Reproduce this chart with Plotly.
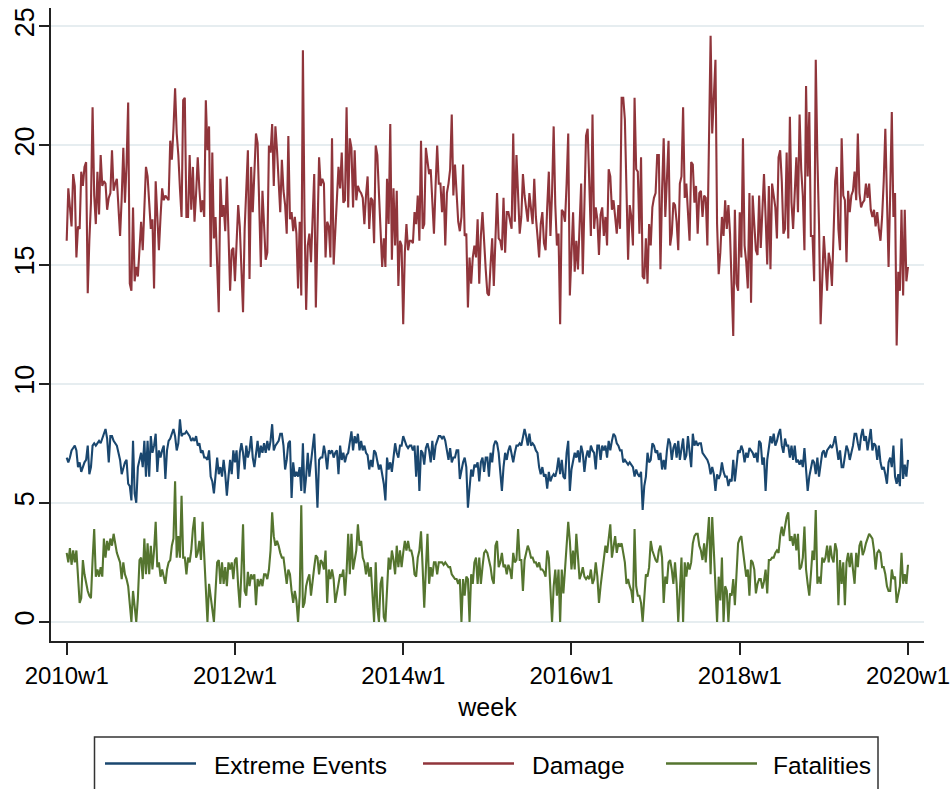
import plotly.graph_objects as go

# ---------------- data (weekly, 2010w1 .. 2020w1) ----------------
damage_a = [16.0,18.2,17.4,16.6,18.8,18.3,15.3,16.6,16.5,18.9,
18.3,19.1,19.3,13.8,16.0,17.6,21.6,17.9,16.7,18.9,
17.1,19.6,18.3,18.5,18.4,17.3,17.8,18.0,19.8,18.1,
18.4,18.6,17.4,16.2,17.8,19.9,17.6,19.2,21.8,14.2,
13.9,17.4,14.3,14.9,14.5,15.9,16.8,15.6,17.2,19.1,
18.7,17.4,16.5,16.9,14.0,18.5,16.9,15.6,17.0,18.2,
17.7,17.9,17.8,17.7,20.2,19.4,20.7,22.4,20.5,19.6,
18.2,17.0,21.9,22.0,17.0,17.0,19.6,17.3,19.1,16.8,
18.0,19.5,18.2,17.2,17.7,17.0,21.9,19.8,20.8,14.9,
19.7,16.1,17.0,15.0,13.0,18.6,17.0,17.5,16.4,18.7,
16.0,13.9,15.6,15.7,14.3,16.2,17.5,16.6,14.8,13.0,
16.5,18.2,19.8,14.4,19.1,17.2,18.9,20.5,20.1,17.0,
14.9,18.1,16.5,15.2,15.5,20.0,19.7,20.9,18.3,20.8]
damage_b = [19.8,18.3,17.2,19.4,18.1,17.5,16.3,20.4,16.9,17.2,
16.4,17.0,16.3,14.0,16.8,13.7,24.0,17.0,13.1,15.8,
16.3,15.1,16.7,18.8,13.2,16.0,19.5,18.3,18.6,18.4,
15.3,16.8,16.6,15.3,20.3,15.0,16.5,17.4,19.1,18.2,
19.7,17.6,17.7,21.6,17.4,20.3,19.9,17.4,19.8,17.7,
18.3,18.1,18.0,17.8,16.7,17.9,18.7,16.5,17.8,17.7,
15.9,20.0,19.6,18.0,16.7,14.9,16.1,14.9,18.6,16.7,
20.9,15.2,18.2,15.8,18.1,14.1,16.0,15.8,12.5,15.5,
16.7,15.6,16.0,16.0,15.9,17.2,16.7,17.9,16.0,20.2,
16.5,16.7,19.9,19.4,18.8,19.0,17.7,16.3,18.3,20.0,
18.4,18.4,17.2,18.3,15.8,18.0,18.4,19.0,21.3,17.9,
19.2,17.9,16.8,16.4,17.0,19.2,16.2,16.3,13.2,15.3,
14.2,15.3,15.8,15.3,16.9,14.2,16.2,17.2,15.8,14.8]
damage_c = [13.8,13.7,15.0,16.1,14.1,16.5,18.0,16.1,16.0,15.6,
17.8,15.5,17.2,17.2,16.9,16.5,20.5,16.8,19.6,17.5,
16.3,17.0,18.8,17.9,17.4,16.8,18.0,17.3,16.7,18.6,
17.0,16.2,15.3,16.7,17.2,15.9,15.6,17.4,18.9,16.2,
18.0,20.8,17.5,15.8,16.3,12.5,17.3,17.2,16.8,18.4,
20.5,13.7,15.3,17.2,14.7,16.0,14.8,16.5,18.4,14.6,
17.0,20.4,20.7,18.0,16.2,21.3,16.5,17.4,16.9,15.4,
17.1,17.4,16.2,17.0,15.8,19.0,18.7,17.3,17.7,17.0,
16.3,17.5,16.5,22.0,22.0,21.1,17.3,15.2,17.5,17.0,
15.8,22.0,19.0,18.9,16.3,19.5,14.5,14.4,16.1,14.2,
16.7,15.8,17.4,17.8,18.0,19.6,19.6,14.8,18.1,20.3,
17.0,18.5,20.2,15.8,16.3,17.6,17.5,16.8,15.6,18.4,
18.7,21.6,17.8,18.4,17.2,16.0,19.3,19.2,17.6,18.3]
damage_d = [16.3,18.0,18.1,17.0,17.9,17.8,15.8,20.6,24.6,20.5,
22.0,23.6,16.7,14.6,15.5,17.0,16.2,17.7,16.5,17.5,
16.3,14.2,12.0,17.3,14.2,13.9,17.2,15.3,20.3,15.8,
15.1,14.0,18.0,13.4,17.9,16.7,15.6,15.4,17.9,15.7,
17.0,18.8,17.0,15.0,18.3,14.8,18.4,17.8,17.4,16.1,
19.5,19.8,18.5,16.3,16.5,19.7,16.1,21.2,17.6,16.5,
18.0,19.5,17.2,21.3,19.0,17.9,15.6,22.5,18.7,21.4,
16.2,16.2,14.3,23.6,19.5,16.7,12.5,14.8,16.2,15.1,
13.9,15.5,15.1,14.1,16.9,18.5,19.1,16.5,15.6,20.3,
17.9,17.7,15.1,18.1,17.2,17.9,18.1,18.9,17.7,20.5,
18.0,17.4,17.6,17.7,18.4,17.8,18.4,17.3,17.0,17.3,
16.6,17.2,16.5,16.0,17.0,18.5,20.7,17.4,14.9,18.0,
21.4,17.0,18.0,11.6,14.7,13.9,17.3,13.7,17.3,14.3,
14.9]

events_a = [6.9,6.7,6.9,7.2,7.3,7.4,7.2,6.5,6.7,6.3,
6.5,6.7,6.8,7.4,6.2,6.5,7.4,7.5,7.4,7.5,
7.6,7.5,7.7,7.9,8.1,7.7,6.7,7.8,7.8,7.6,
7.5,7.4,7.1,6.8,6.2,6.5,6.7,6.8,5.8,5.7,
5.1,7.6,5.4,5.0,6.5,6.8,7.1,6.5,7.6,6.1,
7.6,6.1,7.8,7.1,7.4,7.9,6.3,7.2,6.9,7.2,
7.4,6.0,7.2,7.6,7.7,7.9,8.1,7.8,7.2,7.5,
8.5,7.8,7.9,7.9,8.0,7.9,7.8,7.6,7.7,7.6,
7.8,7.4,7.5,7.1,7.2,6.9,6.9,6.8,7.2,6.1,
5.9,5.4,6.1,6.9,6.2,6.5,6.1,6.8,6.2,5.3,
6.1,6.8,6.2,7.2,6.7,7.2,6.0,7.1,7.5,7.1,
6.4,7.4,6.9,7.2,7.8,6.9,6.5,7.2,7.6,6.9,
7.4,7.1,7.5,7.1,7.6,7.2,7.6,8.3,7.2,7.4]
events_b = [7.5,7.6,7.9,7.9,7.4,6.4,6.8,7.5,7.6,5.2,
6.7,6.1,6.3,6.1,6.5,5.5,7.5,5.4,6.1,7.1,
6.1,6.7,7.4,7.9,6.4,4.8,6.8,6.9,6.9,7.4,7.0,
6.4,7.2,7.1,7.2,6.9,7.1,7.2,6.2,7.4,6.8,
7.1,6.7,7.0,7.1,7.5,8.0,7.2,7.8,7.5,7.9,
7.2,7.6,7.2,7.4,7.1,7.0,6.4,6.8,6.5,7.2,7.1,
6.8,6.4,6.6,6.2,5.8,5.1,6.9,6.4,6.7,6.3,
6.8,7.5,7.1,6.9,7.4,7.4,7.8,7.6,7.4,7.3,
7.4,7.4,7.2,7.4,6.1,7.4,5.5,7.2,7.1,6.6,7.3,
7.5,7.2,6.7,7.6,6.8,7.4,7.6,7.8,7.8,7.7,
7.8,7.6,7.2,6.8,7.3,6.7,6.9,6.9,7.2,7.2,
6.0,6.4,6.7,6.9,6.5,4.8,5.8,6.4,6.1,6.6,
6.5,6.7,5.9,6.7,6.9,6.3,6.9]
events_c = [6.9,6.1,7.1,6.7,7.4,7.6,7.5,7.1,6.4,5.5,
6.5,7.1,6.8,7.2,7.4,7.1,6.7,7.1,7.4,7.4,
7.5,7.4,7.8,8.1,7.8,7.4,7.9,7.4,7.5,7.4,7.2,
7.1,6.5,6.2,6.5,6.1,6.2,5.6,6.3,5.9,6.1,
6.2,6.1,6.4,6.9,6.2,6.8,6.1,6.0,7.1,7.6,
5.5,6.4,6.8,7.1,6.9,7.2,6.7,7.4,7.1,6.3,6.9,
7.2,6.9,7.4,7.2,7.1,6.4,7.4,7.4,6.8,7.4,
7.2,7.4,6.9,7.6,7.2,7.6,7.9,7.8,7.5,7.4,
7.2,7.2,6.7,6.8,6.7,6.6,6.7,6.6,6.5,6.1,6.4,
6.2,6.1,6.3,4.7,5.7,6.1,7.1,6.7,6.8,7.5,
7.4,7.1,7.2,6.8,7.1,6.4,6.8,6.4,7.2,7.7,
7.5,6.8,7.3,7.5,6.9,7.6,6.8,7.2,7.7,6.8,7.0,
7.8,7.2,6.5,7.9,7.4,7.6]
events_d = [7.4,7.5,7.5,7.1,7.0,6.9,6.8,6.6,6.2,6.5,
6.2,5.5,6.2,6.0,6.2,6.7,6.3,6.1,6.1,5.7,6.0,
5.9,6.8,5.9,6.7,7.2,7.1,7.4,7.2,6.7,7.1,
6.9,7.3,7.2,7.1,6.9,7.1,6.7,7.6,7.5,6.6,6.9,
5.5,6.8,7.3,7.8,7.5,7.9,7.4,7.6,7.9,8.1,
7.4,7.1,7.7,7.4,7.4,6.9,7.4,6.8,7.4,6.7,
6.8,6.6,6.8,6.5,7.3,6.4,5.5,6.1,6.4,6.8,6.7,
6.2,6.9,6.1,6.6,7.1,7.2,6.9,7.2,7.3,7.4,
7.3,7.5,7.8,7.2,6.8,7.2,6.5,6.5,6.9,7.4,
7.2,6.8,7.1,7.4,7.9,7.9,7.5,7.2,7.8,8.1,7.6,
7.8,7.2,7.6,8.1,7.2,7.5,7.4,6.8,7.4,6.7,
6.4,6.5,6.2,5.8,6.7,6.9,6.5,7.4,6.1,5.8,6.2,
5.7,7.7,6.0,6.6,6.1,6.8]

fatal_a = [2.9,2.5,3.1,2.4,3.0,2.5,3.0,1.9,0.8,1.0,
2.6,2.0,1.6,1.3,1.1,1.0,2.6,3.9,1.9,2.2,
1.9,2.3,1.9,3.5,2.7,3.4,3.0,3.5,3.2,3.7,
3.3,2.9,2.7,2.5,1.8,2.5,2.0,1.8,1.5,0.6,
0.0,1.3,0.5,0.0,1.0,2.6,2.7,1.8,3.5,2.0,
3.3,2.0,3.2,2.2,3.0,4.2,2.3,2.5,1.9,2.2,
1.9,1.6,2.2,2.5,2.6,3.2,3.5,5.9,2.7,3.6,
2.7,5.3,2.7,2.7,2.0,2.7,2.5,3.0,3.9,4.4,
2.7,2.9,3.4,2.6,4.2,2.9,1.9,0.0,1.6,1.0,
0.6,0.0,1.3,2.5,2.6,1.6,2.5,1.6,2.3,1.5,
2.5,2.2,2.5,1.8,2.6,2.7,1.5,0.6,2.1,4.1,
1.3,1.1,2.1,1.5,2.0,1.8,2.0,0.7,1.8,1.5,
1.8,1.5,2.0,2.0,1.8,2.2,3.0,4.6,3.6,3.2]
fatal_b = [3.4,3.2,2.9,2.7,2.7,2.0,1.6,2.2,2.0,1.3,
0.8,1.3,0.9,0.0,1.1,4.9,0.6,0.8,1.5,1.8,2.0,
1.1,1.8,2.3,2.8,2.7,2.0,2.6,2.5,2.2,3.0,
0.8,2.2,1.8,2.2,1.8,0.8,1.3,1.6,2.0,1.9,
2.2,1.1,2.1,3.7,2.0,3.7,2.2,2.7,3.0,4.1,3.2,
3.4,2.7,2.5,2.0,2.5,1.9,2.3,1.3,0.0,2.5,
0.6,0.0,1.6,1.9,0.2,0.0,1.1,2.7,2.2,3.0,2.6,
2.0,3.2,2.3,3.0,2.3,2.9,3.4,3.0,3.4,3.0,
3.0,2.7,2.0,1.9,2.7,3.0,3.8,2.3,0.6,2.2,
3.7,1.6,2.3,1.9,2.5,2.5,2.0,2.5,2.5,2.5,2.4,
2.5,2.4,2.3,2.3,2.0,1.9,1.8,1.8,1.6,1.8,
0.0,1.8,1.1,1.9,1.8,0.0,2.0,1.6,2.5,2.7,
1.6,2.7,1.6,2.3,2.9,3.0]
fatal_c = [2.9,2.6,2.3,1.8,1.6,3.2,3.4,2.3,2.5,2.9,
2.3,2.4,2.0,2.4,2.2,1.8,2.9,2.5,2.6,3.9,2.6,
2.6,1.3,2.6,2.9,3.2,3.0,2.7,2.7,2.5,2.5,
2.3,2.5,2.2,2.2,2.1,1.9,3.0,2.7,1.6,0.0,
1.5,2.2,1.1,2.2,0.0,2.2,1.2,2.3,3.3,4.2,3.4,
2.2,3.0,2.2,3.7,2.7,1.8,2.0,2.3,1.9,1.8,
1.9,1.8,2.2,1.6,1.8,2.5,1.9,0.8,1.5,2.0,2.6,
3.2,2.9,3.6,4.1,2.7,3.2,3.6,2.9,3.3,3.2,
3.3,2.9,2.5,1.6,1.8,1.5,1.3,0.8,3.9,1.5,
1.1,1.1,0.8,0.0,1.3,2.0,1.9,2.3,3.4,3.0,2.8,
2.6,2.5,3.0,3.2,2.7,0.8,1.9,1.6,2.5,2.6,
2.2,1.6,2.5,1.6,0.0,1.3,2.7,0.0,2.5,1.9,
2.5,2.2,2.5,3.3,3.6,3.7]
fatal_d = [3.7,3.2,3.0,2.6,3.3,2.5,3.3,4.4,2.0,4.4,
3.0,1.5,0.0,1.9,0.9,2.7,0.0,1.5,1.3,0.0,1.2,
1.1,1.8,0.7,1.9,3.3,3.5,3.6,3.0,2.5,1.9,
2.2,1.1,2.6,2.5,2.2,1.2,1.6,1.8,1.8,1.4,1.7,
2.2,1.2,2.6,2.6,2.7,2.7,2.9,3.0,2.9,3.6,
4.0,3.6,4.1,4.4,4.6,3.4,3.6,3.2,3.7,3.0,
3.7,2.2,2.3,2.7,4.0,2.2,1.6,1.1,2.0,3.0,2.6,
4.7,1.6,1.9,1.6,2.7,2.5,2.7,3.2,2.5,3.2,
2.7,2.5,3.3,3.0,0.7,2.6,1.6,2.5,0.7,2.5,
2.9,2.3,2.9,2.2,1.6,2.9,2.3,3.2,3.4,2.8,3.0,
3.3,3.5,3.7,3.6,3.5,3.0,2.2,2.9,3.0,2.9,
2.3,2.3,2.0,1.5,1.3,1.3,2.2,1.8,1.9,0.8,1.2,
1.5,2.9,1.6,2.0,1.6,2.4]

series_names = ["Extreme Events", "Damage", "Fatalities"]
series_colors = ["#1A476F", "#90353B", "#55752F"]
tick_weeks = [0, 104, 208, 312, 416, 520]
tick_labels = ["2010w1", "2012w1", "2014w1", "2016w1", "2018w1", "2020w1"]
y_ticks = [0, 5, 10, 15, 20, 25]

events = events_a + events_b + events_c + events_d
damage = damage_a + damage_b + damage_c + damage_d
fatal = fatal_a + fatal_b + fatal_c + fatal_d

FONT = "Liberation Sans Narrow, Arial Narrow, Liberation Sans, Arial, sans-serif"

fig = go.Figure()
for name, vals, col in zip(series_names, [events, damage, fatal], series_colors):
    fig.add_trace(go.Scatter(x=list(range(len(vals))), y=vals, mode="lines", name=name,
                             line=dict(color=col, width=2.1), showlegend=False))

W, H = 950, 789
L, R, T, B = 51, 26, 8, 148
pw, ph = W - L - R, H - T - B


def px(x):
    return (x - L) / pw


def py(y):
    return (H - B - y) / ph


fig.update_layout(
    width=W, height=H,
    margin=dict(l=L, r=R, t=T, b=B),
    paper_bgcolor="white", plot_bgcolor="white",
    font=dict(family=FONT, size=24, color="black"),
    showlegend=False,
    xaxis=dict(range=[-9.7, 529.9], tickvals=tick_weeks, ticktext=tick_labels,
               ticks="outside", ticklen=12, tickwidth=1.5, tickcolor="#222",
               showline=True, linecolor="#222", linewidth=1.5,
               showgrid=False, zeroline=False, ticklabeloverflow="allow",
               automargin=False,
               title=dict(text="week", standoff=11, font=dict(size=25)),
               tickfont=dict(size=24)),
    yaxis=dict(range=[-0.80, 25.77], tickvals=y_ticks, tickangle=-90,
               ticks="outside", ticklen=10, tickwidth=1.5, tickcolor="#222",
               showline=True, linecolor="#222", linewidth=1.5,
               showgrid=True, gridcolor="#E6EDF0", gridwidth=1.5,
               zeroline=False, automargin=False, ticklabelstandoff=-6,
               tickfont=dict(size=27)),
)

# legend box drawn in the Stata style
shapes = [dict(type="rect", xref="paper", yref="paper",
               x0=px(94.5), x1=px(878), y0=py(800), y1=py(737),
               line=dict(color="#333", width=1.5), fillcolor="white", layer="above")]
line_pos = [(105, 196, 212), (423, 514, 530), (666, 757, 771)]
annotations = []
for (x0, x1, tx), name, col in zip(line_pos, series_names, series_colors):
    shapes.append(dict(type="line", xref="paper", yref="paper",
                       x0=px(x0), x1=px(x1), y0=py(763.5), y1=py(763.5),
                       line=dict(color=col, width=2.5), layer="above"))
    annotations.append(dict(xref="paper", yref="paper", x=px(tx), y=py(765),
                            text=name, showarrow=False, xanchor="left", yanchor="middle",
                            font=dict(family=FONT, size=24.5, color="black")))
fig.update_layout(shapes=shapes, annotations=annotations)

fig.write_html("out.html")
